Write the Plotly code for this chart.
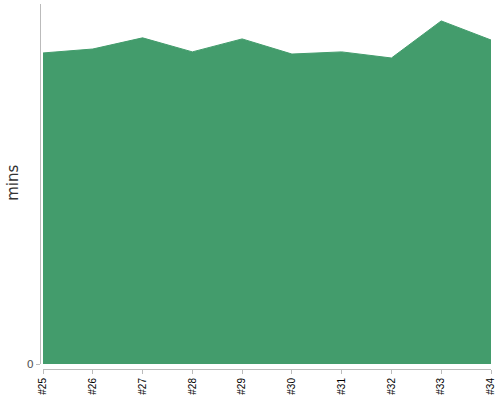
import plotly.graph_objects as go

categories = ["#25", "#26", "#27", "#28", "#29", "#30", "#31", "#32", "#33", "#34"]
mins = [86.4, 87.5, 90.6, 86.7, 90.3, 86.1, 86.7, 85.0, 95.3, 90.0]
y_title = "mins"

green = "rgb(67,156,108)"

fig = go.Figure()
fig.add_trace(go.Scatter(
    x=categories, y=mins, mode="lines", fill="tozeroy",
    fillcolor=green, line=dict(color=green, width=1),
    hoverinfo="skip", showlegend=False,
))

fig.update_layout(
    width=500, height=400,
    margin=dict(l=40, r=9, t=4, b=31, autoexpand=False),
    paper_bgcolor="white", plot_bgcolor="white",
    xaxis=dict(
        domain=[0.0067, 1], anchor="free", position=0,
        type="category", range=[0, 9], automargin=False,
        showgrid=False, zeroline=False,
        showline=True, linecolor="#bbbbbb", linewidth=1,
        ticks="outside", ticklen=4, tickcolor="#bbbbbb",
        tickangle=-90,
        tickfont=dict(family="Liberation Sans", size=10, color="#000000"),
    ),
    yaxis=dict(
        domain=[0.0137, 1], anchor="free", position=0,
        range=[0, 100], automargin=False,
        showgrid=False, zeroline=False,
        showline=True, linecolor="#bbbbbb", linewidth=1,
        ticks="outside", ticklen=4, tickcolor="#bbbbbb",
        tickvals=[0], ticktext=["0"],
        tickfont=dict(family="DejaVu Sans", size=11, color="#555555"),
    ),
    annotations=[dict(
        text=y_title, xref="paper", yref="paper",
        x=-0.0599, y=0.51, xanchor="center", yanchor="middle",
        textangle=-90, showarrow=False,
        font=dict(family="DejaVu Sans", size=15, color="#333333"),
    )],
)

fig.write_html(
    "out.html",
    config={"displayModeBar": False},
    post_script="document.body.style.margin='0';document.body.style.padding='0';document.body.style.overflow='hidden';",
)
